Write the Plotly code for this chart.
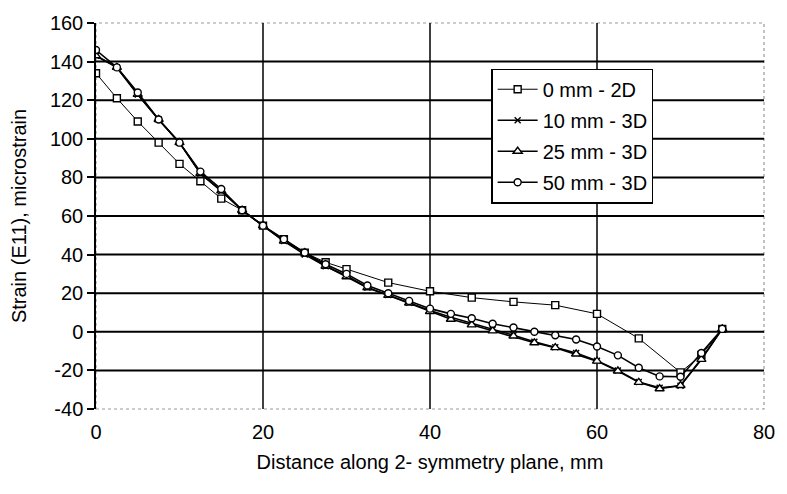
import plotly.graph_objects as go

# Strain along the symmetry plane: 2D model vs. 3D model at three offsets
x_2d = [0, 2.5, 5, 7.5, 10, 12.5, 15, 17.5, 20, 22.5, 25, 27.5, 30, 35, 40,
        45, 50, 55, 60, 65, 70, 72.5, 75]
y_2d = [134, 121, 109, 98, 87, 78, 69, 63, 55, 48, 41, 36, 32.5, 25.5, 21,
        17.7, 15.5, 13.8, 9.3, -3.4, -21, -12, 1.5]

x_3d = [0, 2.5, 5, 7.5, 10, 12.5, 15, 17.5, 20, 22.5, 25, 27.5, 30, 32.5, 35,
        37.5, 40, 42.5, 45, 47.5, 50, 52.5, 55, 57.5, 60, 62.5, 65, 67.5, 70,
        72.5, 75]
y_10 = [143, 137, 123, 110, 98, 82, 73, 63, 55, 47, 40, 34, 29, 23, 19,
        15, 11, 7.5, 4.5, 1.2, -1.8, -5.2, -8, -11, -15, -20, -26, -29, -28,
        -14, 1.5]
y_25 = [143, 137, 123, 110, 98, 82, 73, 63, 55, 47, 41, 34, 28.5, 22.8, 18.9,
        14.9, 10.5, 6.5, 3.6, 0.5, -2.2, -5.7, -8.2, -11.5, -15.2, -20.3, -26.2,
        -29.5, -27.8, -14.3, 1.5]
y_50 = [146, 137, 124, 110, 98, 83, 74, 63, 55, 48, 41, 35, 30, 24, 20,
        16, 12, 9.3, 7, 4.2, 2.2, 0, -1.8, -4, -7.6, -12.2, -18.6, -23.1, -23.3,
        -11, 1.5]

names = ["0 mm - 2D", "10 mm - 3D", "25 mm - 3D", "50 mm - 3D"]
x_ticks = [0, 20, 40, 60, 80]
y_ticks = [-40, -20, 0, 20, 40, 60, 80, 100, 120, 140, 160]
y_tick_text = ["-40", "-20", "0", "20", "40", "60", "80", "100", "120", "140", "160"]

FONT = "Liberation Sans, Arial, sans-serif"

series = [
    (x_2d, y_2d, "square", 7, 1.0),
    (x_3d, y_10, "x-thin", 6, 1.6),
    (x_3d, y_25, "triangle-up", 8, 1.6),
    (x_3d, y_50, "circle", 7, 1.6),
]

fig = go.Figure()
for i, (xs, ys, sym, size, lw) in enumerate(series):
    is_x = sym == "x-thin"
    fig.add_trace(go.Scatter(
        x=xs, y=ys, name=names[i], mode="lines+markers",
        legendgroup=str(i),
        line=dict(color="black", width=lw),
        marker=dict(symbol=sym, size=size,
                    color="black" if is_x else "white",
                    line=dict(color="black", width=1.4)),
    ))

# gridlines inside the plot area
shapes = []
for yv in y_ticks[1:-1]:
    shapes.append(dict(type="line", xref="x", yref="y", x0=x_ticks[0], x1=x_ticks[-1],
                       y0=yv, y1=yv, line=dict(color="black", width=2), layer="below"))
for xv in x_ticks[1:-1]:
    shapes.append(dict(type="line", xref="x", yref="y", x0=xv, x1=xv,
                       y0=y_ticks[0], y1=y_ticks[-1], line=dict(color="black", width=1.5),
                       layer="below"))
# light dotted frame on top, right and bottom
shapes.append(dict(type="rect", xref="paper", yref="paper", x0=0, x1=1, y0=0, y1=1,
                   line=dict(color="#999999", width=1.2, dash="dot"), layer="below"))

fig.update_layout(
    width=787, height=494,
    margin=dict(l=96, r=19, t=14, b=85),
    paper_bgcolor="white", plot_bgcolor="white",
    font=dict(family=FONT, size=20, color="black"),
    shapes=shapes,
    showlegend=True,
    legend=dict(x=0.592, y=0.882, xanchor="left", yanchor="top",
                bgcolor="white", bordercolor="black", borderwidth=1.2,
                font=dict(family=FONT, size=20), tracegroupgap=2,
                itemwidth=40),
)
fig.update_xaxes(
    range=[0, 80], tickvals=x_ticks, showgrid=False, zeroline=False,
    showline=False, ticks="", ticklabelstandoff=9,
    title=dict(text="Distance along 2- symmetry plane, mm", standoff=12,
               font=dict(size=20)),
)
fig.update_yaxes(
    range=[-40, 160], tickvals=y_ticks, ticktext=y_tick_text,
    showgrid=False, zeroline=False,
    showline=True, linecolor="black", linewidth=1.5,
    ticks="outside", ticklen=7, tickcolor="black", tickwidth=1.5,
    title=dict(text="Strain (E11), microstrain", standoff=18, font=dict(size=20)),
)

fig.write_html("out.html")
